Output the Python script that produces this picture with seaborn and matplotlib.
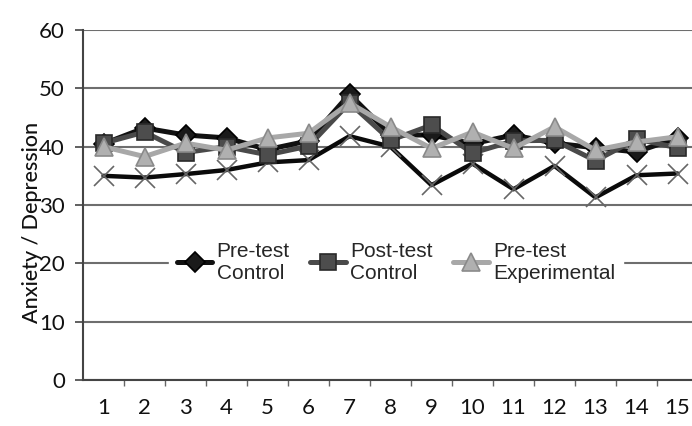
import numpy as np
import pandas as pd
import matplotlib
matplotlib.use("Agg")
import matplotlib.pyplot as plt
import seaborn as sns

sessions = list(range(1, 16))
pre_control = [40.5, 43.2, 42.0, 41.5, 39.5, 41.0, 49.0, 42.0, 42.0, 40.5, 42.0, 40.6, 39.8, 39.1, 41.5]
post_control = [40.6, 42.5, 39.0, 40.0, 38.6, 40.1, 47.5, 41.1, 43.7, 38.9, 41.0, 41.1, 37.6, 41.3, 39.8]
pre_exp = [40.0, 38.3, 40.6, 39.4, 41.5, 42.3, 47.5, 43.4, 39.7, 42.5, 39.7, 43.4, 39.4, 40.8, 41.7]
post_exp = [35.0, 34.7, 35.3, 36.0, 37.3, 37.7, 41.8, 40.0, 33.4, 37.1, 32.7, 36.7, 31.3, 35.1, 35.4]
series_names = ["Pre-test\nControl", "Post-test\nControl", "Pre-test\nExperimental", "Post-test\nExperimental"]
y_ticks = [0, 10, 20, 30, 40, 50, 60]

sns.set_theme(style="white")
plt.rcParams['font.family'] = ['Lato', 'DejaVu Sans']

fig = plt.figure(figsize=(6.92, 4.26), dpi=100)
ax = fig.add_axes([83/692, 1-380/426, 615/692, 350/426])

styles = [
    dict(color="#111111", marker="D", markersize=10, linewidth=3.6, mfc="#1a1a1a", mec="#000000"),
    dict(color="#4a4a4a", marker="s", markersize=12, linewidth=3.6, mfc="#4d4d4d", mec="#2a2a2a"),
    dict(color="#a8a8a8", marker="^", markersize=13, linewidth=3.6, mfc="#b0b0b0", mec="#8a8a8a"),
    dict(color="#0a0a0a", marker="x", markersize=14, linewidth=3.2, mfc="none", mec="#666666"),
]
data = [pre_control, post_control, pre_exp, post_exp]

for i, (name, vals, st) in enumerate(zip(series_names, data, styles)):
    df = pd.DataFrame({"session": sessions, "value": vals})
    sns.lineplot(data=df, x="session", y="value", ax=ax, color=st["color"],
                 linewidth=st["linewidth"], marker=st["marker"], markersize=st["markersize"],
                 markerfacecolor=st["mfc"], markeredgecolor=st["mec"], markeredgewidth=1.2,
                 label=name if i < 3 else None, zorder=3 + (i if i < 3 else -1))

ax.set_xlim(0.5, 15.5)
ax.set_ylim(0, 60)
ax.set_yticks(y_ticks)
ax.set_xticks(sessions)
ax.set_xticks([s + 0.5 for s in sessions[:-1]], minor=True)
ax.grid(axis="y", color="#6e6e6e", linewidth=1.5, zorder=0)
ax.set_axisbelow(True)
for sp in ["top", "right"]:
    ax.spines[sp].set_visible(False)
ax.spines["left"].set_color("#444444")
ax.spines["bottom"].set_color("#444444")
ax.spines["left"].set_linewidth(1.5)
ax.spines["bottom"].set_linewidth(1.5)
ax.tick_params(axis="y", which="major", length=6, width=1.2, color="#444444", labelsize=16, pad=7, left=True)
ax.tick_params(axis="x", which="major", length=0, labelsize=16, pad=13)
ax.tick_params(axis="x", which="minor", length=4, width=1, color="#666666", bottom=True)
for lab in ax.get_xticklabels() + ax.get_yticklabels():
    lab.set_color("#111111")

ax.set_xlabel("")
ax.set_ylabel("Anxiety / Depression", fontsize=15.5, color="#111111", fontweight="medium")
ax.yaxis.set_label_coords(-0.066, 0.45)

leg = ax.legend(loc="center", bbox_to_anchor=(0.509, 0.337), ncol=3, frameon=True,
                fancybox=False, framealpha=1, facecolor="white", edgecolor="white",
                handlelength=1.7, handletextpad=0.2, columnspacing=1.0,
                prop={"family": "Liberation Sans", "size": 15}, borderpad=0.4)
for t in leg.get_texts():
    t.set_multialignment("left")
leg.set_zorder(10)

fig.savefig("out.png", dpi=100, facecolor="white")
